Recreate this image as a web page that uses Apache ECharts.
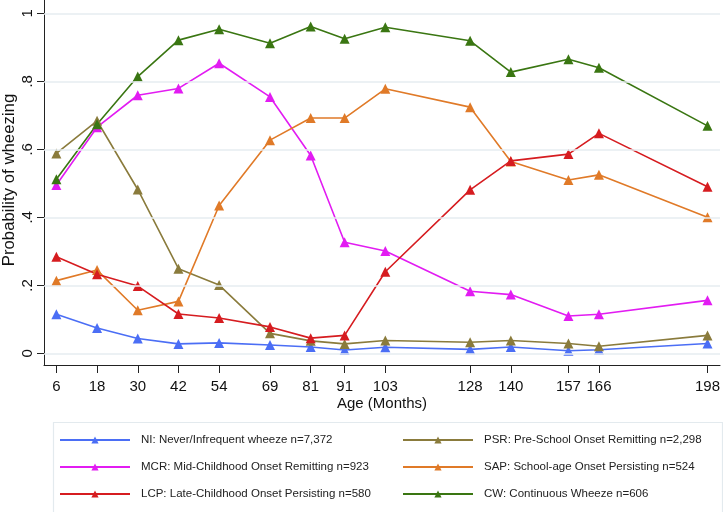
<!DOCTYPE html>
<html><head><meta charset="utf-8">
<script src="https://cdn.jsdelivr.net/npm/echarts@6/dist/echarts.min.js"></script>
<style>html,body{margin:0;padding:0;background:#fff}#c{width:723px;height:512px}</style>
</head><body><div id="c"></div>
<script>
const ages = [6, 18, 30, 42, 54, 69, 81, 91, 103, 128, 140, 157, 166, 198];
const yTicks = [0, 0.2, 0.4, 0.6, 0.8, 1];
const NI  = [0.115, 0.075, 0.044, 0.028, 0.031, 0.025, 0.019, 0.010, 0.018, 0.012, 0.019, 0.008, 0.011, 0.029];
const PSR = [0.588, 0.684, 0.482, 0.249, 0.201, 0.059, 0.037, 0.028, 0.038, 0.033, 0.038, 0.029, 0.021, 0.053];
const MCR = [0.495, 0.665, 0.759, 0.779, 0.853, 0.754, 0.582, 0.327, 0.301, 0.183, 0.173, 0.110, 0.115, 0.156];
const SAP = [0.214, 0.245, 0.127, 0.153, 0.435, 0.627, 0.692, 0.692, 0.778, 0.724, 0.564, 0.510, 0.525, 0.400];
const LCP = [0.284, 0.233, 0.198, 0.116, 0.104, 0.078, 0.045, 0.053, 0.240, 0.481, 0.566, 0.586, 0.647, 0.490];
const CW  = [0.512, 0.674, 0.814, 0.921, 0.953, 0.912, 0.961, 0.925, 0.959, 0.919, 0.827, 0.865, 0.840, 0.669];

const seriesDefs = [
  {name: 'NI: Never/Infrequent wheeze n=7,372', data: NI, color: '#4b6ef5'},
  {name: 'PSR: Pre-School Onset Remitting n=2,298', data: PSR, color: '#8a7b3c'},
  {name: 'MCR: Mid-Childhood Onset Remitting n=923', data: MCR, color: '#e21cf2'},
  {name: 'SAP: School-age Onset Persisting n=524', data: SAP, color: '#e07a28'},
  {name: 'LCP: Late-Childhood Onset Persisting n=580', data: LCP, color: '#d61c20'},
  {name: 'CW: Continuous Wheeze n=606', data: CW, color: '#3a7612'}
];
const FONT = '"Liberation Sans", Arial, sans-serif';
const chart = echarts.init(document.getElementById('c'), null, {renderer: 'canvas'});
const series = seriesDefs.map(s => ({
  name: s.name, type: 'line', data: s.data.map((v, i) => [ages[i], v]),
  symbol: 'triangle', symbolSize: 10, color: s.color,
  lineStyle: {width: 1.6, color: s.color}, itemStyle: {color: s.color},
  emphasis: {disabled: true}, animation: false, z: 3
}));
series.unshift({
  type: 'line', data: [], silent: true, animation: false, z: 1,
  markLine: {silent: true, symbol: 'none', label: {show: false}, animation: false,
    lineStyle: {color: '#e6edf1', width: 1.5, type: 'solid'},
    data: yTicks.map(v => ({yAxis: v}))}
});
const legendCommon = {orient: 'vertical', itemWidth: 70, itemHeight: 9, itemGap: 15, padding: 0,
  textStyle: {fontFamily: FONT, fontSize: 11.5, color: '#222', padding: [0, 0, 0, 6]}, selectedMode: false};
chart.setOption({
  animation: false,
  grid: {left: 44, right: 1, top: 0, bottom: 147, containLabel: false},
  xAxis: {type: 'value', min: 2.35, max: 201.7,
    axisLine: {show: true, onZero: false, lineStyle: {color: '#222', width: 1}},
    axisTick: {show: true, length: 8, customValues: ages, lineStyle: {color: '#222'}},
    axisLabel: {customValues: ages, fontFamily: FONT, fontSize: 15, color: '#111', margin: 14},
    splitLine: {show: false}},
  yAxis: {type: 'value', min: -0.034, max: 1.039,
    axisLine: {show: true, onZero: false, lineStyle: {color: '#222', width: 1}},
    axisTick: {show: true, length: 7, customValues: yTicks, lineStyle: {color: '#222'}},
    axisLabel: {customValues: yTicks, rotate: 90, fontFamily: FONT, fontSize: 15, color: '#111', margin: 9,
      formatter: v => (v === 0 ? '0' : v === 1 ? '1' : String(+v.toFixed(1)).replace(/^0/, ''))},
    splitLine: {show: false}},
  legend: [
    Object.assign({}, legendCommon, {left: 59, top: 434, data: [seriesDefs[0].name, seriesDefs[2].name, seriesDefs[4].name]}),
    Object.assign({}, legendCommon, {left: 402, top: 434, data: [seriesDefs[1].name, seriesDefs[3].name, seriesDefs[5].name]})
  ],
  graphic: [
    {type: 'rect', left: 51, top: 420, shape: {width: 669, height: 90}, style: {fill: 'none', stroke: '#e3eaee', lineWidth: 1.2}, z: -1},
    {type: 'text', x: 382, y: 404, style: {text: 'Age (Months)', font: '15px ' + FONT, fill: '#111', textAlign: 'center', textVerticalAlign: 'middle'}},
    {type: 'text', x: 9, y: 180, rotation: Math.PI / 2, style: {text: 'Probability of wheezing', font: '16.8px ' + FONT, fill: '#111', textAlign: 'center', textVerticalAlign: 'middle'}}
  ],
  series: series
});
</script></body></html>
